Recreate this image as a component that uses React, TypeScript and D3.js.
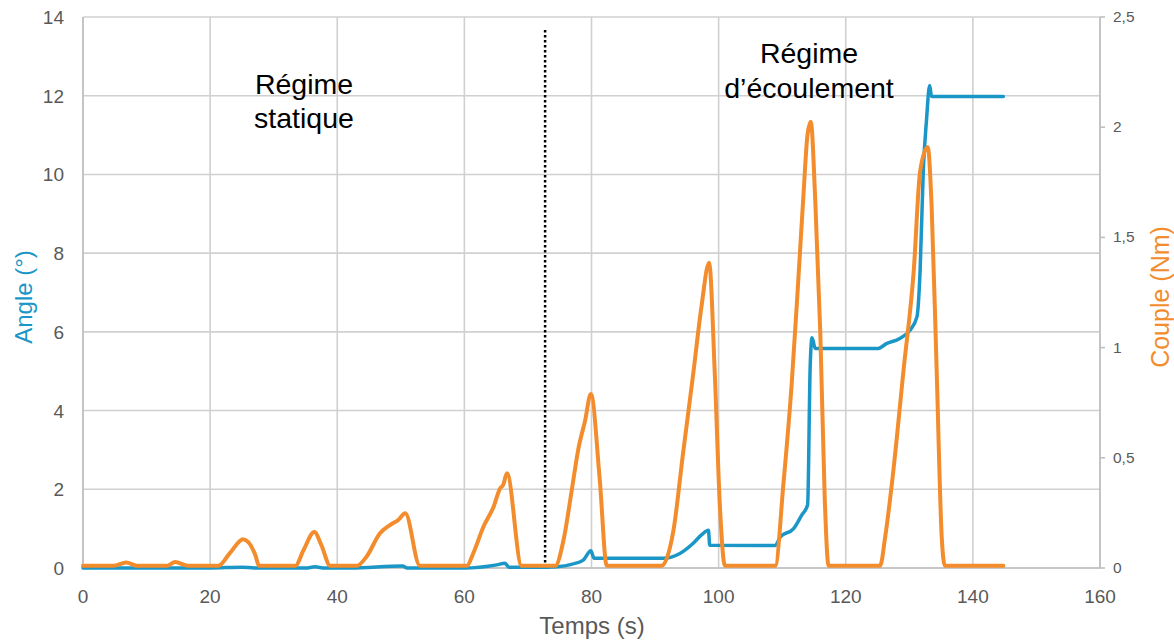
import React from "react";
import * as d3 from "d3";

const xTicks = [0, 20, 40, 60, 80, 100, 120, 140, 160];
const leftTicks = [0, 2, 4, 6, 8, 10, 12, 14];
const rightTicks = [0, 0.5, 1, 1.5, 2, 2.5];
const rightTickLabels = ["0", "0,5", "1", "1,5", "2", "2,5"];

const coupleTime = [0, 4.8, 6.8, 8.5, 13.2, 14.5, 16.5, 21.3, 23.1, 25.2, 27.1, 27.7, 33.4, 34.7, 36.4, 37.5, 38.9, 43.1, 44.6, 46.7, 48.3, 49.6, 50.7, 53.0, 60.4, 61.4, 63.0, 64.6, 65.6, 66.1, 66.7, 69.0, 74.3, 75.6, 76.9, 77.9, 79.0, 79.9, 81.3, 82.4, 91.0, 92.9, 94.4, 96.0, 97.3, 98.5, 99.4, 100.2, 101.0, 108.9, 110.2, 111.5, 112.5, 113.3, 114.0, 114.5, 115.2, 116.0, 116.7, 117.3, 125.4, 126.2, 127.5, 129.1, 130.7, 131.7, 132.9, 133.5, 134.3, 135.1, 135.6, 144.8];
const coupleValue = [0.01, 0.01, 0.025, 0.01, 0.01, 0.027, 0.01, 0.01, 0.067, 0.13, 0.06, 0.01, 0.01, 0.082, 0.163, 0.104, 0.01, 0.01, 0.051, 0.157, 0.195, 0.218, 0.248, 0.01, 0.01, 0.067, 0.187, 0.278, 0.36, 0.377, 0.43, 0.01, 0.01, 0.127, 0.354, 0.535, 0.67, 0.79, 0.40, 0.01, 0.01, 0.172, 0.52, 0.88, 1.186, 1.385, 0.88, 0.28, 0.01, 0.01, 0.384, 0.838, 1.29, 1.67, 1.97, 2.025, 1.67, 1.065, 0.31, 0.01, 0.01, 0.14, 0.445, 0.9, 1.35, 1.8, 1.91, 1.65, 0.9, 0.14, 0.01, 0.01];

const angleTime = [0, 20, 25, 27, 35, 36.5, 38, 42, 50.3, 51, 60, 65.1, 66.4, 67, 73, 74.5, 77, 78.7, 79.9, 80.4, 91.3, 93.9, 96.0, 97.3, 98.4, 98.6, 108.9, 109.7, 111.8, 113.1, 114.0, 114.4, 114.7, 115.2, 125.1, 126.4, 128.5, 130.1, 131.2, 131.7, 132.2, 132.7, 133.2, 133.5, 144.8];
const angleValue = [0, 0, 0.02, 0, 0, 0.03, 0, 0, 0.05, 0, 0, 0.08, 0.12, 0.02, 0.02, 0.03, 0.1, 0.2, 0.44, 0.25, 0.25, 0.37, 0.63, 0.84, 0.96, 0.58, 0.57, 0.79, 1.0, 1.35, 1.6, 5.1, 5.85, 5.58, 5.58, 5.7, 5.83, 6.04, 6.38, 7.56, 10.1, 11.37, 12.26, 11.98, 11.98];

const transitionTime = 72.7;

const BLUE = "#1B97C7";
const ORANGE = "#F28C2C";
const GRID = "#D0D0D0";
const AXIS = "#BFBFBF";
const TXT = "#595959";
const FONT = "'Liberation Sans', Arial, sans-serif";

export default function App() {
  const W = 1174, H = 643;
  const x = d3.scaleLinear().domain([0, 160]).range([83, 1100]);
  const yL = d3.scaleLinear().domain([0, 14]).range([568, 17]);
  const yR = d3.scaleLinear().domain([0, 2.5]).range([568, 17]);

  const coupleData = coupleTime.map((t, i) => [t, coupleValue[i]] as [number, number]);
  const angleData = angleTime.map((t, i) => [t, angleValue[i]] as [number, number]);

  const coupleLine = d3.line<[number, number]>().x(d => x(d[0])).y(d => yR(d[1])).curve(d3.curveMonotoneX);
  const angleLine = d3.line<[number, number]>().x(d => x(d[0])).y(d => yL(d[1])).curve(d3.curveMonotoneX);

  return (
    <div style={{ position: "absolute", left: 0, top: 0 }}>
      <svg width={W} height={H} style={{ display: "block", background: "#fff" }} fontFamily={FONT}>
        {leftTicks.map(t => (
          <line key={"h" + t} x1={x(0)} x2={x(160)} y1={yL(t)} y2={yL(t)} stroke={GRID} strokeWidth={1.6} />
        ))}
        {xTicks.map(t => (
          <line key={"v" + t} x1={x(t)} x2={x(t)} y1={yL(14)} y2={yL(0)} stroke={GRID} strokeWidth={1.6} />
        ))}
        <line x1={x(0)} x2={x(0)} y1={yL(14)} y2={yL(0)} stroke={AXIS} strokeWidth={1.6} />
        <line x1={x(0)} x2={x(160)} y1={yL(0)} y2={yL(0)} stroke={AXIS} strokeWidth={1.6} />
        <line x1={x(160)} x2={x(160)} y1={yR(2.5)} y2={yR(0)} stroke={AXIS} strokeWidth={1.6} />
        {rightTicks.map(t => (
          <line key={"rt" + t} x1={x(160)} x2={x(160) + 5} y1={yR(t)} y2={yR(t)} stroke={AXIS} strokeWidth={1.6} />
        ))}

        {leftTicks.map(t => (
          <text key={"lt" + t} x={64} y={yL(t) + 7} textAnchor="end" fontSize={19} fill={TXT}>{t}</text>
        ))}
        {xTicks.map(t => (
          <text key={"bt" + t} x={x(t)} y={603} textAnchor="middle" fontSize={19} fill={TXT}>{t}</text>
        ))}
        {rightTicks.map((t, i) => (
          <text key={"rl" + t} x={1113} y={yR(t) + 5} textAnchor="start" fontSize={15.5} fill={TXT}>{rightTickLabels[i]}</text>
        ))}

        <text x={592} y={634} textAnchor="middle" fontSize={24} fill={TXT}>Temps (s)</text>
        <text transform={`translate(32,297) rotate(-90)`} textAnchor="middle" fontSize={24} fill={BLUE}>Angle (°)</text>
        <text transform={`translate(1169,297) rotate(-90)`} textAnchor="middle" fontSize={25} fill={ORANGE}>Couple (Nm)</text>

        <line x1={x(transitionTime)} x2={x(transitionTime)} y1={30} y2={yL(0)} stroke="#000" strokeWidth={2.5} strokeDasharray="2.5,2.5" />

        <path d={angleLine(angleData) || ""} fill="none" stroke={BLUE} strokeWidth={3.5} strokeLinejoin="round" strokeLinecap="round" />
        <path d={coupleLine(coupleData) || ""} fill="none" stroke={ORANGE} strokeWidth={4} strokeLinejoin="round" strokeLinecap="round" />

        <text x={304} y={94} textAnchor="middle" fontSize={28.5} fill="#000">Régime</text>
        <text x={304} y={128} textAnchor="middle" fontSize={28.5} fill="#000">statique</text>
        <text x={809} y={63} textAnchor="middle" fontSize={28.5} fill="#000">Régime</text>
        <text x={809} y={98} textAnchor="middle" fontSize={28.5} fill="#000">d’écoulement</text>
      </svg>
    </div>
  );
}
